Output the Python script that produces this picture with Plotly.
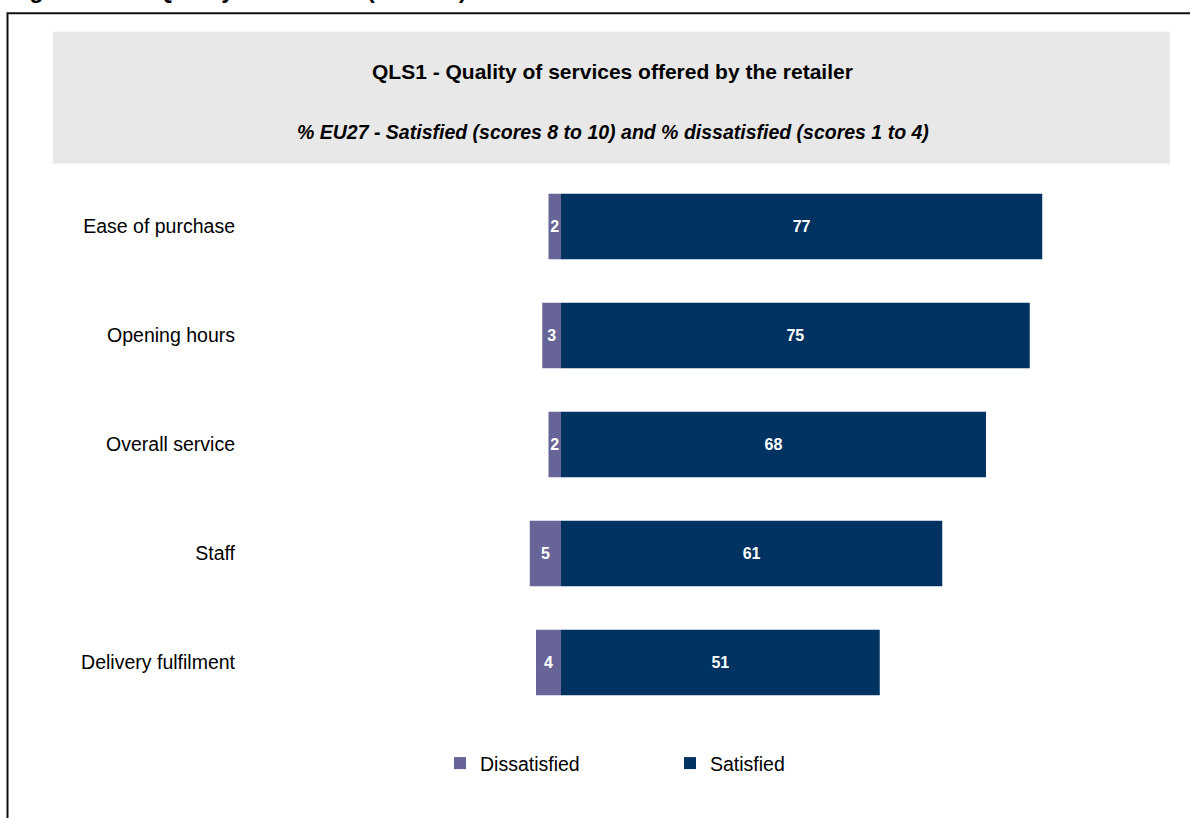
import plotly.graph_objects as go

# Quality of services offered by the retailer, % EU27
categories = ["Ease of purchase", "Opening hours", "Overall service", "Staff", "Delivery fulfilment"]
dissatisfied = [2, 3, 2, 5, 4]
satisfied = [77, 75, 68, 61, 51]

W, H = 1190, 818
L, R, T, B = 250, 20, 171.5, 100.5
PW, PH = W - L - R, H - T - B
ZERO_PX = 561
PX_PER_UNIT = 6.25
x_min = -(ZERO_PX - L) / PX_PER_UNIT
x_max = x_min + PW / PX_PER_UNIT


def px(x):
    return (x - L) / PW


def py(y):
    return (H - B - y) / PH


FONT = "Liberation Sans, Arial, Helvetica, sans-serif"
C_DIS = "#676598"
C_SAT = "#003361"

fig = go.Figure()
fig.add_trace(go.Bar(
    name="Dissatisfied", y=categories, x=[-v for v in dissatisfied],
    orientation="h", marker=dict(color=C_DIS, line=dict(width=0)),
    text=[str(v) for v in dissatisfied], textposition="inside",
    insidetextanchor="middle", constraintext="none", textangle=0,
    textfont=dict(family=FONT, size=16, color="white", weight="bold"),
    width=0.6,
))
fig.add_trace(go.Bar(
    name="Satisfied", y=categories, x=satisfied,
    orientation="h", marker=dict(color=C_SAT, line=dict(width=0)),
    text=[str(v) for v in satisfied], textposition="inside",
    insidetextanchor="middle", constraintext="none", textangle=0,
    textfont=dict(family=FONT, size=16, color="white", weight="bold"),
    width=0.6,
))

shapes = [
    # outer frame
    dict(type="rect", xref="paper", yref="paper",
         x0=px(7.5), x1=px(1210), y0=py(840), y1=py(12.5),
         line=dict(color="#111111", width=2), fillcolor="rgba(0,0,0,0)", layer="below"),
    # header panel
    dict(type="rect", xref="paper", yref="paper",
         x0=px(53), x1=px(1170), y0=py(163), y1=py(31),
         line=dict(width=0), fillcolor="#e8e8e8", layer="below"),
]

annotations = [
    # figure caption running off the top edge of the page
    dict(text="<b>Figure 4.14 – Quality of services (% EU27)</b>", xref="paper", yref="paper",
         x=px(7), y=py(-10.5), xanchor="left", yanchor="middle", showarrow=False,
         font=dict(family=FONT, size=23, color="black")),
    dict(text="<b>QLS1 - Quality of services offered by the retailer</b>", xref="paper", yref="paper",
         x=px(612), y=py(71), xanchor="center", yanchor="middle", showarrow=False,
         font=dict(family=FONT, size=21, color="black")),
    dict(text="<b><i>% EU27 - Satisfied (scores 8 to 10) and % dissatisfied (scores 1 to 4)</i></b>",
         xref="paper", yref="paper",
         x=px(613), y=py(131), xanchor="center", yanchor="middle", showarrow=False,
         font=dict(family=FONT, size=19.5, color="black")),
]

fig.update_layout(
    width=W, height=H,
    margin=dict(l=L, r=R, t=T, b=B, pad=0),
    paper_bgcolor="white", plot_bgcolor="white",
    barmode="relative", bargap=0.4,
    showlegend=True,
    legend=dict(orientation="h", x=px(670), y=py(764), xanchor="center", yanchor="middle",
                font=dict(family=FONT, size=19.5, color="black"),
                entrywidth=185, entrywidthmode="pixels", traceorder="normal"),
    xaxis=dict(range=[x_min, x_max], visible=False, fixedrange=True),
    yaxis=dict(categoryorder="array", categoryarray=categories, autorange="reversed",
               showgrid=False, zeroline=False, showline=False, ticks="",
               ticklabelstandoff=14,
               tickfont=dict(family=FONT, size=19.5, color="black")),
    shapes=shapes, annotations=annotations,
    font=dict(family=FONT),
)

fig.write_html("out.html")
